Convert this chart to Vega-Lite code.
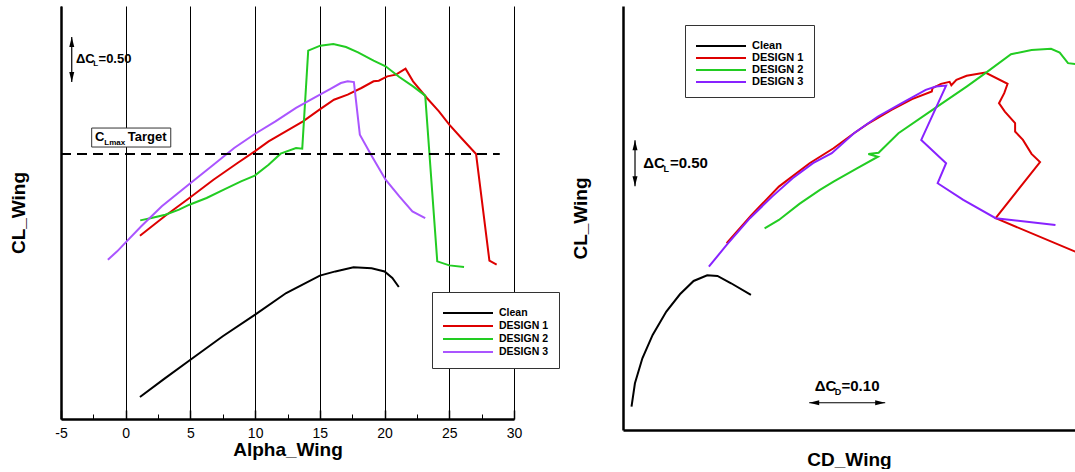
{
  "$schema": "https://vega.github.io/schema/vega-lite/v6.json",
  "background": "white",
  "padding": {"left": 9, "top": 6, "right": 0, "bottom": 0},
  "bounds": "flush",
  "spacing": 109,
  "config": {
    "font": "Liberation Sans",
    "view": {"stroke": null},
    "axis": {"labelColor": "black", "titleColor": "black", "domainColor": "black", "tickColor": "black", "titleFontWeight": "bold", "titleFontSize": 19}
  },
  "resolve": {"scale": {"color": "independent", "shape": "independent"}, "legend": {"color": "independent"}},
  "datasets": {
    "sweep": [
      {"config": "Clean", "alpha": 1.1, "CL": 0.244},
      {"config": "Clean", "alpha": 3, "CL": 0.449},
      {"config": "Clean", "alpha": 5, "CL": 0.659},
      {"config": "Clean", "alpha": 7.5, "CL": 0.92},
      {"config": "Clean", "alpha": 10, "CL": 1.159},
      {"config": "Clean", "alpha": 12.4, "CL": 1.4},
      {"config": "Clean", "alpha": 15, "CL": 1.593},
      {"config": "Clean", "alpha": 16.2, "CL": 1.64},
      {"config": "Clean", "alpha": 17.6, "CL": 1.685},
      {"config": "Clean", "alpha": 19, "CL": 1.674},
      {"config": "Clean", "alpha": 20, "CL": 1.64},
      {"config": "Clean", "alpha": 20.6, "CL": 1.567},
      {"config": "Clean", "alpha": 21.1, "CL": 1.467},
      {"config": "DESIGN 1", "alpha": 1.1, "CL": 2.037},
      {"config": "DESIGN 1", "alpha": 3.06, "CL": 2.259},
      {"config": "DESIGN 1", "alpha": 4.92, "CL": 2.456},
      {"config": "DESIGN 1", "alpha": 6.78, "CL": 2.659},
      {"config": "DESIGN 1", "alpha": 8.64, "CL": 2.844},
      {"config": "DESIGN 1", "alpha": 9.97, "CL": 2.974},
      {"config": "DESIGN 1", "alpha": 11.04, "CL": 3.085},
      {"config": "DESIGN 1", "alpha": 12.37, "CL": 3.196},
      {"config": "DESIGN 1", "alpha": 13.7, "CL": 3.307},
      {"config": "DESIGN 1", "alpha": 14.97, "CL": 3.437},
      {"config": "DESIGN 1", "alpha": 16.09, "CL": 3.548},
      {"config": "DESIGN 1", "alpha": 17.15, "CL": 3.604},
      {"config": "DESIGN 1", "alpha": 18.21, "CL": 3.678},
      {"config": "DESIGN 1", "alpha": 19.15, "CL": 3.752},
      {"config": "DESIGN 1", "alpha": 19.55, "CL": 3.759},
      {"config": "DESIGN 1", "alpha": 20.21, "CL": 3.807},
      {"config": "DESIGN 1", "alpha": 20.88, "CL": 3.826},
      {"config": "DESIGN 1", "alpha": 21.62, "CL": 3.893},
      {"config": "DESIGN 1", "alpha": 22.2, "CL": 3.752},
      {"config": "DESIGN 1", "alpha": 23.27, "CL": 3.567},
      {"config": "DESIGN 1", "alpha": 24.2, "CL": 3.419},
      {"config": "DESIGN 1", "alpha": 25, "CL": 3.27},
      {"config": "DESIGN 1", "alpha": 25.93, "CL": 3.122},
      {"config": "DESIGN 1", "alpha": 27.07, "CL": 2.944},
      {"config": "DESIGN 1", "alpha": 28.1, "CL": 1.759},
      {"config": "DESIGN 1", "alpha": 28.66, "CL": 1.715},
      {"config": "DESIGN 2", "alpha": 1.12, "CL": 2.207},
      {"config": "DESIGN 2", "alpha": 1.99, "CL": 2.233},
      {"config": "DESIGN 2", "alpha": 3.06, "CL": 2.27},
      {"config": "DESIGN 2", "alpha": 4.12, "CL": 2.326},
      {"config": "DESIGN 2", "alpha": 4.92, "CL": 2.381},
      {"config": "DESIGN 2", "alpha": 6.25, "CL": 2.456},
      {"config": "DESIGN 2", "alpha": 7.58, "CL": 2.548},
      {"config": "DESIGN 2", "alpha": 8.91, "CL": 2.641},
      {"config": "DESIGN 2", "alpha": 9.97, "CL": 2.704},
      {"config": "DESIGN 2", "alpha": 11.04, "CL": 2.826},
      {"config": "DESIGN 2", "alpha": 11.97, "CL": 2.948},
      {"config": "DESIGN 2", "alpha": 13.16, "CL": 3.011},
      {"config": "DESIGN 2", "alpha": 13.64, "CL": 3.004},
      {"config": "DESIGN 2", "alpha": 14.1, "CL": 4.093},
      {"config": "DESIGN 2", "alpha": 15.03, "CL": 4.148},
      {"config": "DESIGN 2", "alpha": 16.04, "CL": 4.167},
      {"config": "DESIGN 2", "alpha": 17.02, "CL": 4.133},
      {"config": "DESIGN 2", "alpha": 17.95, "CL": 4.074},
      {"config": "DESIGN 2", "alpha": 19.15, "CL": 3.981},
      {"config": "DESIGN 2", "alpha": 20.08, "CL": 3.919},
      {"config": "DESIGN 2", "alpha": 21.14, "CL": 3.8},
      {"config": "DESIGN 2", "alpha": 22.2, "CL": 3.696},
      {"config": "DESIGN 2", "alpha": 23.14, "CL": 3.593},
      {"config": "DESIGN 2", "alpha": 24.07, "CL": 1.752},
      {"config": "DESIGN 2", "alpha": 25, "CL": 1.707},
      {"config": "DESIGN 2", "alpha": 26.14, "CL": 1.689},
      {"config": "DESIGN 3", "alpha": -1.38, "CL": 1.77},
      {"config": "DESIGN 3", "alpha": -0.66, "CL": 1.863},
      {"config": "DESIGN 3", "alpha": 0, "CL": 1.963},
      {"config": "DESIGN 3", "alpha": 1.2, "CL": 2.141},
      {"config": "DESIGN 3", "alpha": 2.79, "CL": 2.363},
      {"config": "DESIGN 3", "alpha": 4.92, "CL": 2.611},
      {"config": "DESIGN 3", "alpha": 6.78, "CL": 2.826},
      {"config": "DESIGN 3", "alpha": 8.38, "CL": 3.011},
      {"config": "DESIGN 3", "alpha": 9.97, "CL": 3.167},
      {"config": "DESIGN 3", "alpha": 11.57, "CL": 3.307},
      {"config": "DESIGN 3", "alpha": 13.16, "CL": 3.456},
      {"config": "DESIGN 3", "alpha": 14.76, "CL": 3.585},
      {"config": "DESIGN 3", "alpha": 15.82, "CL": 3.667},
      {"config": "DESIGN 3", "alpha": 16.62, "CL": 3.733},
      {"config": "DESIGN 3", "alpha": 17.15, "CL": 3.752},
      {"config": "DESIGN 3", "alpha": 17.63, "CL": 3.744},
      {"config": "DESIGN 3", "alpha": 18.09, "CL": 3.159},
      {"config": "DESIGN 3", "alpha": 19.02, "CL": 2.919},
      {"config": "DESIGN 3", "alpha": 20.08, "CL": 2.659},
      {"config": "DESIGN 3", "alpha": 21.14, "CL": 2.474},
      {"config": "DESIGN 3", "alpha": 22.15, "CL": 2.307},
      {"config": "DESIGN 3", "alpha": 23.14, "CL": 2.233}
    ],
    "polar": [
      {"config": "Clean", "CD": 0.0112, "CL": 0.254},
      {"config": "Clean", "CD": 0.0157, "CL": 0.509},
      {"config": "Clean", "CD": 0.0255, "CL": 0.781},
      {"config": "Clean", "CD": 0.039, "CL": 1.036},
      {"config": "Clean", "CD": 0.057, "CL": 1.29},
      {"config": "Clean", "CD": 0.0749, "CL": 1.479},
      {"config": "Clean", "CD": 0.0929, "CL": 1.624},
      {"config": "Clean", "CD": 0.1108, "CL": 1.686},
      {"config": "Clean", "CD": 0.1243, "CL": 1.679},
      {"config": "Clean", "CD": 0.1422, "CL": 1.599},
      {"config": "Clean", "CD": 0.1683, "CL": 1.472},
      {"config": "DESIGN 1", "CD": 0.1364, "CL": 2.035},
      {"config": "DESIGN 1", "CD": 0.1692, "CL": 2.344},
      {"config": "DESIGN 1", "CD": 0.2051, "CL": 2.652},
      {"config": "DESIGN 1", "CD": 0.2455, "CL": 2.907},
      {"config": "DESIGN 1", "CD": 0.277, "CL": 3.07},
      {"config": "DESIGN 1", "CD": 0.3039, "CL": 3.234},
      {"config": "DESIGN 1", "CD": 0.3219, "CL": 3.336},
      {"config": "DESIGN 1", "CD": 0.3533, "CL": 3.488},
      {"config": "DESIGN 1", "CD": 0.3803, "CL": 3.605},
      {"config": "DESIGN 1", "CD": 0.4063, "CL": 3.688},
      {"config": "DESIGN 1", "CD": 0.4072, "CL": 3.725},
      {"config": "DESIGN 1", "CD": 0.4184, "CL": 3.772},
      {"config": "DESIGN 1", "CD": 0.4297, "CL": 3.793},
      {"config": "DESIGN 1", "CD": 0.432, "CL": 3.757},
      {"config": "DESIGN 1", "CD": 0.4387, "CL": 3.815},
      {"config": "DESIGN 1", "CD": 0.4521, "CL": 3.859},
      {"config": "DESIGN 1", "CD": 0.4768, "CL": 3.895},
      {"config": "DESIGN 1", "CD": 0.506, "CL": 3.772},
      {"config": "DESIGN 1", "CD": 0.5016, "CL": 3.67},
      {"config": "DESIGN 1", "CD": 0.4947, "CL": 3.561},
      {"config": "DESIGN 1", "CD": 0.5024, "CL": 3.47},
      {"config": "DESIGN 1", "CD": 0.5159, "CL": 3.343},
      {"config": "DESIGN 1", "CD": 0.5159, "CL": 3.252},
      {"config": "DESIGN 1", "CD": 0.5262, "CL": 3.161},
      {"config": "DESIGN 1", "CD": 0.5375, "CL": 3.009},
      {"config": "DESIGN 1", "CD": 0.5487, "CL": 2.919},
      {"config": "DESIGN 1", "CD": 0.4903, "CL": 2.308},
      {"config": "DESIGN 1", "CD": 0.595, "CL": 1.944},
      {"config": "DESIGN 1", "CD": 0.655, "CL": 1.759},
      {"config": "DESIGN 1", "CD": 0.669, "CL": 1.715},
      {"config": "DESIGN 2", "CD": 0.1863, "CL": 2.198},
      {"config": "DESIGN 2", "CD": 0.2051, "CL": 2.289},
      {"config": "DESIGN 2", "CD": 0.2321, "CL": 2.464},
      {"config": "DESIGN 2", "CD": 0.2591, "CL": 2.616},
      {"config": "DESIGN 2", "CD": 0.277, "CL": 2.707},
      {"config": "DESIGN 2", "CD": 0.3084, "CL": 2.853},
      {"config": "DESIGN 2", "CD": 0.3354, "CL": 2.978},
      {"config": "DESIGN 2", "CD": 0.3228, "CL": 3.007},
      {"config": "DESIGN 2", "CD": 0.3363, "CL": 3.021},
      {"config": "DESIGN 2", "CD": 0.3624, "CL": 3.234},
      {"config": "DESIGN 2", "CD": 0.4072, "CL": 3.488},
      {"config": "DESIGN 2", "CD": 0.4521, "CL": 3.742},
      {"config": "DESIGN 2", "CD": 0.4768, "CL": 3.888},
      {"config": "DESIGN 2", "CD": 0.5105, "CL": 4.095},
      {"config": "DESIGN 2", "CD": 0.5375, "CL": 4.14},
      {"config": "DESIGN 2", "CD": 0.5632, "CL": 4.153},
      {"config": "DESIGN 2", "CD": 0.5746, "CL": 4.113},
      {"config": "DESIGN 2", "CD": 0.5855, "CL": 3.997},
      {"config": "DESIGN 2", "CD": 0.61, "CL": 3.97},
      {"config": "DESIGN 3", "CD": 0.113, "CL": 1.78},
      {"config": "DESIGN 3", "CD": 0.1364, "CL": 2.017},
      {"config": "DESIGN 3", "CD": 0.167, "CL": 2.308},
      {"config": "DESIGN 3", "CD": 0.1962, "CL": 2.543},
      {"config": "DESIGN 3", "CD": 0.2232, "CL": 2.744},
      {"config": "DESIGN 3", "CD": 0.25, "CL": 2.907},
      {"config": "DESIGN 3", "CD": 0.2747, "CL": 3.016},
      {"config": "DESIGN 3", "CD": 0.3039, "CL": 3.234},
      {"config": "DESIGN 3", "CD": 0.3354, "CL": 3.416},
      {"config": "DESIGN 3", "CD": 0.3668, "CL": 3.561},
      {"config": "DESIGN 3", "CD": 0.3983, "CL": 3.706},
      {"config": "DESIGN 3", "CD": 0.4117, "CL": 3.742},
      {"config": "DESIGN 3", "CD": 0.4251, "CL": 3.753},
      {"config": "DESIGN 3", "CD": 0.3924, "CL": 3.161},
      {"config": "DESIGN 3", "CD": 0.4251, "CL": 2.907},
      {"config": "DESIGN 3", "CD": 0.414, "CL": 2.689},
      {"config": "DESIGN 3", "CD": 0.4477, "CL": 2.507},
      {"config": "DESIGN 3", "CD": 0.4903, "CL": 2.308},
      {"config": "DESIGN 3", "CD": 0.569, "CL": 2.235}
    ]
  },
  "hconcat": [
    {
      "width": 453,
      "height": 413,
      "resolve": {"axis": {"x": "independent"}},
      "layer": [
        {
          "data": {"name": "sweep"},
          "transform": [{"window": [{"op": "row_number", "as": "i"}]}],
          "mark": {"type": "line", "strokeWidth": 2},
          "encoding": {
            "x": {"field": "alpha", "type": "quantitative", "scale": {"domain": [-5, 30], "nice": false, "zero": false},
              "axis": {"orient": "bottom", "title": "Alpha_Wing", "values": [-5, 0, 5, 10, 15, 20, 25, 30], "labelExpr": "'' + datum.value", "grid": true, "gridColor": "black", "gridWidth": 1, "gridOpacity": 1, "domainWidth": 2.5, "tickSize": -9, "tickWidth": 1.5, "labelFontSize": 14, "labelPadding": 16, "labelFlush": false, "labelOverlap": false, "titlePadding": 0}},
            "y": {"field": "CL", "type": "quantitative", "title": "CL_Wing", "scale": {"domain": [0, 4.589], "nice": false, "zero": false},
              "axis": {"title": "CL_Wing", "labels": false, "ticks": false, "grid": false, "domainWidth": 2.5, "titlePadding": 33}},
            "color": {"field": "config", "type": "nominal",
              "scale": {"domain": ["Clean", "DESIGN 1", "DESIGN 2", "DESIGN 3"], "range": ["#000000", "#dd0000", "#22cc22", "#aa55ff"]},
              "legend": {"orient": "none", "legendX": 371, "legendY": 286, "title": " ", "titleFontSize": 5, "titlePadding": 0, "symbolType": "M-1,0H9", "symbolSize": 100, "symbolStrokeWidth": 2, "labelFontSize": 10.5, "labelFontWeight": "bold", "labelColor": "black", "labelOffset": 45, "fillColor": "white", "strokeColor": "#333333", "padding": 10, "rowPadding": 1}},
            "order": {"field": "i", "type": "quantitative"}
          }
        },
        {
          "data": {"values": [{"alpha": -5, "CL": 2.944}, {"alpha": 28.9, "CL": 2.944}]},
          "mark": {"type": "line", "color": "black", "strokeWidth": 2, "strokeDash": [10, 6]},
          "encoding": {
            "x": {"field": "alpha", "type": "quantitative",
              "axis": {"orient": "bottom", "title": null, "values": [-2.5, 2.5, 7.5, 12.5, 17.5, 22.5, 27.5], "domain": false, "labels": false, "grid": false, "tickSize": -5, "tickWidth": 1}},
            "y": {"field": "CL", "type": "quantitative", "title": "CL_Wing"}
          }
        },
        {
          "data": {"values": [{"a1": -2.63, "a2": 3.48, "c1": 3.022, "c2": 3.233}]},
          "mark": {"type": "rect", "fill": "white", "stroke": "#333333", "strokeWidth": 1},
          "encoding": {
            "x": {"field": "a1", "type": "quantitative", "axis": null},
            "x2": {"field": "a2"},
            "y": {"field": "c1", "type": "quantitative", "title": "CL_Wing"},
            "y2": {"field": "c2"}
          }
        },
        {
          "data": {"values": [
            {"alpha": -2.373, "CL": 3.133, "label": "C"},
            {"alpha": 0.155, "CL": 3.133, "label": "Target"},
            {"alpha": -3.84, "CL": 4.0, "label": "ΔC"},
            {"alpha": -2.1, "CL": 4.0, "label": "=0.50"}
          ]},
          "mark": {"type": "text", "align": "left", "baseline": "middle", "fontSize": 13, "fontWeight": "bold", "color": "black"},
          "encoding": {
            "x": {"field": "alpha", "type": "quantitative", "axis": null},
            "y": {"field": "CL", "type": "quantitative", "title": "CL_Wing"},
            "text": {"field": "label"}
          }
        },
        {
          "data": {"values": [
            {"alpha": -1.654, "CL": 3.067, "label": "Lmax"},
            {"alpha": -2.5, "CL": 3.944, "label": "L"}
          ]},
          "mark": {"type": "text", "align": "left", "baseline": "middle", "fontSize": 8, "fontWeight": "bold", "color": "black"},
          "encoding": {
            "x": {"field": "alpha", "type": "quantitative", "axis": null},
            "y": {"field": "CL", "type": "quantitative", "title": "CL_Wing"},
            "text": {"field": "label"}
          }
        },
        {
          "data": {"values": [{"x1": -4.17, "x2": -4.17, "y1": 3.745, "y2": 4.245}]},
          "mark": {"type": "rule", "color": "black", "strokeWidth": 1.2},
          "encoding": {
            "x": {"field": "x1", "type": "quantitative", "axis": null},
            "x2": {"field": "x2"},
            "y": {"field": "y1", "type": "quantitative", "title": "CL_Wing"},
            "y2": {"field": "y2"}
          }
        },
        {
          "data": {"values": [{"alpha": -4.17, "CL": 4.245, "dir": "up"}, {"alpha": -4.17, "CL": 3.745, "dir": "down"}]},
          "mark": {"type": "point", "filled": true, "color": "black", "opacity": 1, "size": 100, "strokeWidth": 0},
          "encoding": {
            "x": {"field": "alpha", "type": "quantitative", "axis": null},
            "y": {"field": "CL", "type": "quantitative", "title": "CL_Wing"},
            "shape": {"field": "dir", "type": "nominal", "legend": null,
              "scale": {"domain": ["up", "down", "left", "right"], "range": ["M0,0L0.5,2L-0.5,2Z", "M0,0L0.5,-2L-0.5,-2Z", "M0,0L2,0.5L2,-0.5Z", "M0,0L-2,0.5L-2,-0.5Z"]}}
          }
        }
      ]
    },
    {
      "width": 452,
      "height": 424,
      "layer": [
        {
          "data": {"name": "polar"},
          "transform": [{"window": [{"op": "row_number", "as": "i"}]}],
          "mark": {"type": "line", "strokeWidth": 2, "clip": true},
          "encoding": {
            "x": {"field": "CD", "type": "quantitative", "title": "CD_Wing", "scale": {"domain": [0, 0.5947], "nice": false, "zero": false},
              "axis": {"title": "CD_Wing", "labels": false, "ticks": false, "grid": false, "domainWidth": 2.5, "titlePadding": 20}},
            "y": {"field": "CL", "type": "quantitative", "title": "CL_Wing", "scale": {"domain": [0, 4.62], "nice": false, "zero": false},
              "axis": {"title": "CL_Wing", "labels": false, "ticks": false, "grid": false, "domainWidth": 2.5, "titlePadding": 33}},
            "color": {"field": "config", "type": "nominal",
              "scale": {"domain": ["Clean", "DESIGN 1", "DESIGN 2", "DESIGN 3"], "range": ["#000000", "#dd0000", "#22cc22", "#8822ff"]},
              "legend": {"orient": "none", "legendX": 62, "legendY": 19, "title": " ", "titleFontSize": 5, "titlePadding": 0, "symbolType": "M-1,0H9", "symbolSize": 100, "symbolStrokeWidth": 2, "labelFontSize": 11, "labelFontWeight": "bold", "labelColor": "black", "labelOffset": 45, "fillColor": "white", "strokeColor": "#333333", "padding": 10, "rowPadding": 1}},
            "order": {"field": "i", "type": "quantitative"}
          }
        },
        {
          "data": {"values": [
            {"x1": 0.0158, "x2": 0.0158, "y1": 2.656, "y2": 3.156},
            {"x1": 0.245, "x2": 0.345, "y1": 0.297, "y2": 0.297}
          ]},
          "mark": {"type": "rule", "color": "black", "strokeWidth": 1.2},
          "encoding": {
            "x": {"field": "x1", "type": "quantitative", "title": "CD_Wing"},
            "x2": {"field": "x2"},
            "y": {"field": "y1", "type": "quantitative", "title": "CL_Wing"},
            "y2": {"field": "y2"}
          }
        },
        {
          "data": {"values": [
            {"CD": 0.0158, "CL": 3.156, "dir": "up"},
            {"CD": 0.0158, "CL": 2.656, "dir": "down"},
            {"CD": 0.245, "CL": 0.297, "dir": "left"},
            {"CD": 0.345, "CL": 0.297, "dir": "right"}
          ]},
          "mark": {"type": "point", "filled": true, "color": "black", "opacity": 1, "size": 100, "strokeWidth": 0},
          "encoding": {
            "x": {"field": "CD", "type": "quantitative", "title": "CD_Wing"},
            "y": {"field": "CL", "type": "quantitative", "title": "CL_Wing"},
            "shape": {"field": "dir", "type": "nominal", "legend": null,
              "scale": {"domain": ["up", "down", "left", "right"], "range": ["M0,0L0.5,2L-0.5,2Z", "M0,0L0.5,-2L-0.5,-2Z", "M0,0L2,0.5L2,-0.5Z", "M0,0L-2,0.5L-2,-0.5Z"]}}
          }
        },
        {
          "data": {"values": [
            {"CD": 0.0267, "CL": 2.909, "label": "ΔC"},
            {"CD": 0.0618, "CL": 2.909, "label": "=0.50"},
            {"CD": 0.2522, "CL": 0.479, "label": "ΔC"},
            {"CD": 0.2875, "CL": 0.479, "label": "=0.10"}
          ]},
          "mark": {"type": "text", "align": "left", "baseline": "middle", "fontSize": 15, "fontWeight": "bold", "color": "black"},
          "encoding": {
            "x": {"field": "CD", "type": "quantitative", "title": "CD_Wing"},
            "y": {"field": "CL", "type": "quantitative", "title": "CL_Wing"},
            "text": {"field": "label"}
          }
        },
        {
          "data": {"values": [
            {"CD": 0.0533, "CL": 2.844, "label": "L"},
            {"CD": 0.2786, "CL": 0.414, "label": "D"}
          ]},
          "mark": {"type": "text", "align": "left", "baseline": "middle", "fontSize": 9, "fontWeight": "bold", "color": "black"},
          "encoding": {
            "x": {"field": "CD", "type": "quantitative", "title": "CD_Wing"},
            "y": {"field": "CL", "type": "quantitative", "title": "CL_Wing"},
            "text": {"field": "label"}
          }
        }
      ]
    }
  ]
}
